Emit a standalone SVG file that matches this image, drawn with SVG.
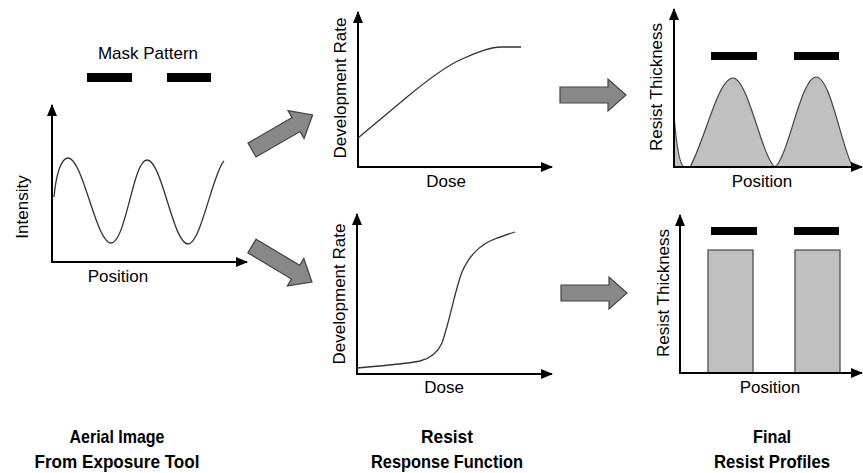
<svg xmlns="http://www.w3.org/2000/svg" width="863" height="473" viewBox="0 0 863 473">
<style>
.bg{fill:#ffffff}
.axis{stroke:#000;stroke-width:2;fill:none}
.curve{stroke:#333;stroke-width:1.3;fill:none}
.prof{fill:#c0c0c0;stroke:#444;stroke-width:1.2}
.mask{fill:#000}
.garrow{fill:#888;stroke:#444;stroke-width:1.2;stroke-linejoin:miter}
.lbl{font-family:"Liberation Sans",Arial,sans-serif;font-size:17px;fill:#000;text-anchor:middle}
.cap{font-family:"Liberation Sans",Arial,sans-serif;font-size:19px;font-weight:bold;fill:#000;text-anchor:middle}
</style>
<defs>
<marker id="ah" markerUnits="userSpaceOnUse" markerWidth="12" markerHeight="10" refX="11" refY="5" orient="auto">
<path d="M0,0 L12,5 L0,10 Z" fill="#000"/>
</marker>
<path id="bigarrow" d="M0,-8 L48,-8 L48,-16 L66,0 L48,16 L48,8 L0,8 Z"/>
</defs>
<rect class="bg" x="0" y="0" width="863" height="473"/>

<g id="aerial">
<text class="lbl" x="148" y="59">Mask Pattern</text>
<rect class="mask" x="87" y="73" width="45" height="9"/>
<rect class="mask" x="167" y="73" width="44" height="9"/>
<line class="axis" x1="52" y1="262" x2="52" y2="105" marker-end="url(#ah)"/>
<line class="axis" x1="51" y1="262" x2="247" y2="262" marker-end="url(#ah)"/>
<path class="curve" d="M54,197 C56,175 61,158 68,158 C83,158 96,243 111,243 C126,243 133,160 147,160 C162,160 173,244 188,244 C201,244 213,172 224,161"/>
<text class="lbl" transform="translate(28,207) rotate(-90)">Intensity</text>
<text class="lbl" x="118" y="282">Position</text>
</g>

<g id="resp-top">
<line class="axis" x1="358" y1="167" x2="358" y2="12" marker-end="url(#ah)"/>
<line class="axis" x1="357" y1="167" x2="552" y2="167" marker-end="url(#ah)"/>
<path class="curve" d="M358,138 L407,97 C430,78 448,65 462,59 C478,52 490,47 502,47 L521,47"/>
<text class="lbl" transform="translate(346,88) rotate(-90)">Development Rate</text>
<text class="lbl" x="446" y="187">Dose</text>
</g>

<g id="resp-bottom">
<line class="axis" x1="357" y1="374" x2="357" y2="214" marker-end="url(#ah)"/>
<line class="axis" x1="356" y1="374" x2="552" y2="374" marker-end="url(#ah)"/>
<path class="curve" d="M357,368 C380,366 405,364 420,361 C432,358 438,352 442,343 C450,320 455,290 462,272 C468,258 476,248 490,241 C500,237 508,234 515,232"/>
<text class="lbl" transform="translate(345,294) rotate(-90)">Development Rate</text>
<text class="lbl" x="444" y="393">Dose</text>
</g>

<g id="profile-top">
<path class="prof" d="M674,167 L674,115 C676,140 679,165 684,167 L690,167 C705,140 718,78 733,78 C748,78 762,158 775,167 C788,158 801,77 816,77 C831,77 842,150 853,167 Z"/>
<rect class="mask" x="711" y="52" width="46" height="8"/>
<rect class="mask" x="794" y="52" width="45" height="8"/>
<line class="axis" x1="674" y1="168" x2="674" y2="9" marker-end="url(#ah)"/>
<line class="axis" x1="673" y1="167" x2="862" y2="167" marker-end="url(#ah)"/>
<text class="lbl" transform="translate(662,87) rotate(-90)">Resist Thickness</text>
<text class="lbl" x="762" y="187">Position</text>
</g>

<g id="profile-bottom">
<rect class="prof" x="708" y="250" width="45" height="123"/>
<rect class="prof" x="795" y="250" width="45" height="123"/>
<rect class="mask" x="711" y="227" width="46" height="8"/>
<rect class="mask" x="794" y="227" width="45" height="8"/>
<line class="axis" x1="680" y1="374" x2="680" y2="215" marker-end="url(#ah)"/>
<line class="axis" x1="679" y1="373" x2="862" y2="373" marker-end="url(#ah)"/>
<text class="lbl" transform="translate(669,293) rotate(-90)">Resist Thickness</text>
<text class="lbl" x="770" y="393">Position</text>
</g>

<g id="connectors">
<use href="#bigarrow" class="garrow" transform="translate(252,150) rotate(-30) scale(1.06,1)"/>
<use href="#bigarrow" class="garrow" transform="translate(252,246) rotate(31) scale(1.06,1)"/>
<use href="#bigarrow" class="garrow" transform="translate(560,95)"/>
<use href="#bigarrow" class="garrow" transform="translate(561,293)"/>
</g>

<g id="captions">
<text class="cap" x="117" y="443" textLength="95" lengthAdjust="spacingAndGlyphs">Aerial Image</text>
<text class="cap" x="117" y="468" textLength="165" lengthAdjust="spacingAndGlyphs">From Exposure Tool</text>
<text class="cap" x="447" y="443" textLength="52" lengthAdjust="spacingAndGlyphs">Resist</text>
<text class="cap" x="447" y="468" textLength="152" lengthAdjust="spacingAndGlyphs">Response Function</text>
<text class="cap" x="772" y="443" textLength="38" lengthAdjust="spacingAndGlyphs">Final</text>
<text class="cap" x="772" y="468" textLength="116" lengthAdjust="spacingAndGlyphs">Resist Profiles</text>
</g>
</svg>
